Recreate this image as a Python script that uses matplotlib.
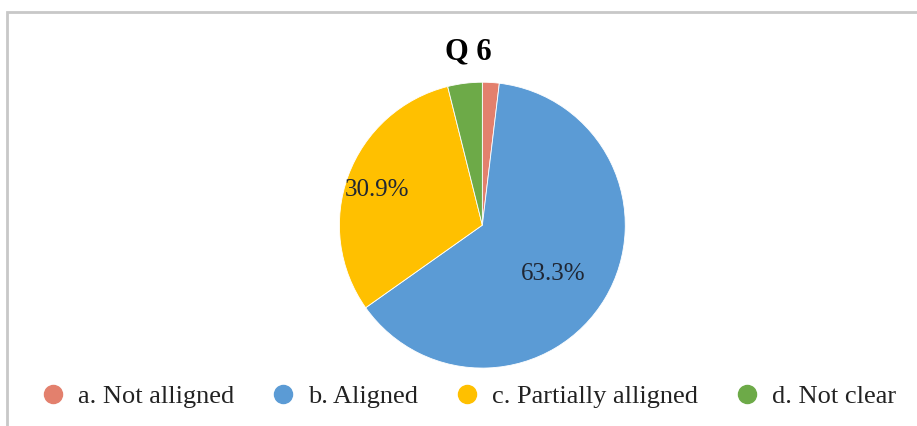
import matplotlib.pyplot as plt
import numpy as np
from matplotlib.lines import Line2D
from matplotlib.patches import Rectangle

# Q 6 responses (percent)
categories = ["a. Not alligned", "b. Aligned", "c. Partially alligned", "d. Not clear"]
shares = [1.9, 63.3, 30.9, 3.9]
shown_labels = ["", "63.3%", "30.9%", ""]
label_dist = [0.0, 0.6, 0.78, 0.0]
label_turn = [0, -4, 2, 0]  # degrees, nudges label off the wedge midline
colors = ["#E3806D", "#5B9BD5", "#FFC000", "#6DAA48"]

plt.rcParams["font.family"] = ["Liberation Serif", "DejaVu Serif"]

fig = plt.figure(figsize=(9.17, 4.26), dpi=100)

# gray chart frame (only top/left visible in the crop)
fig.patches.append(
    Rectangle((7 / 917, -0.2), 1.2, 1.2 - 12 / 426, transform=fig.transFigure,
              facecolor="none", edgecolor="#c8c8c8", linewidth=2.0)
)

ax = fig.add_axes([0.370, 0.136, 0.312, 0.671])
wedges, _ = ax.pie(
    shares,
    colors=colors,
    startangle=90,
    counterclock=False,
    wedgeprops=dict(edgecolor="white", linewidth=0.6),
)
ax.set_xlim(-1, 1)
ax.set_ylim(-1, 1)
ax.set_aspect("equal")

for wedge, text, dist, turn in zip(wedges, shown_labels, label_dist, label_turn):
    if not text:
        continue
    mid = np.deg2rad((wedge.theta1 + wedge.theta2) / 2 + turn)
    ax.text(dist * np.cos(mid), dist * np.sin(mid), text,
            ha="center", va="center", fontsize=18, color="#1f2633")

fig.text(0.511, 0.878, "Q 6", ha="center", va="center",
         fontsize=22, fontweight="bold", color="black")

handles = [Line2D([], [], linestyle="none", marker="o", markersize=13,
                  markerfacecolor=c, markeredgecolor=c) for c in colors]
fig.legend(handles, categories, loc="center", bbox_to_anchor=(0.51, 0.07),
           ncol=4, frameon=False, fontsize=19, handletextpad=0.45,
           columnspacing=1.35, handlelength=1.0, labelcolor="#222222")

fig.savefig("out.png", dpi=100)
